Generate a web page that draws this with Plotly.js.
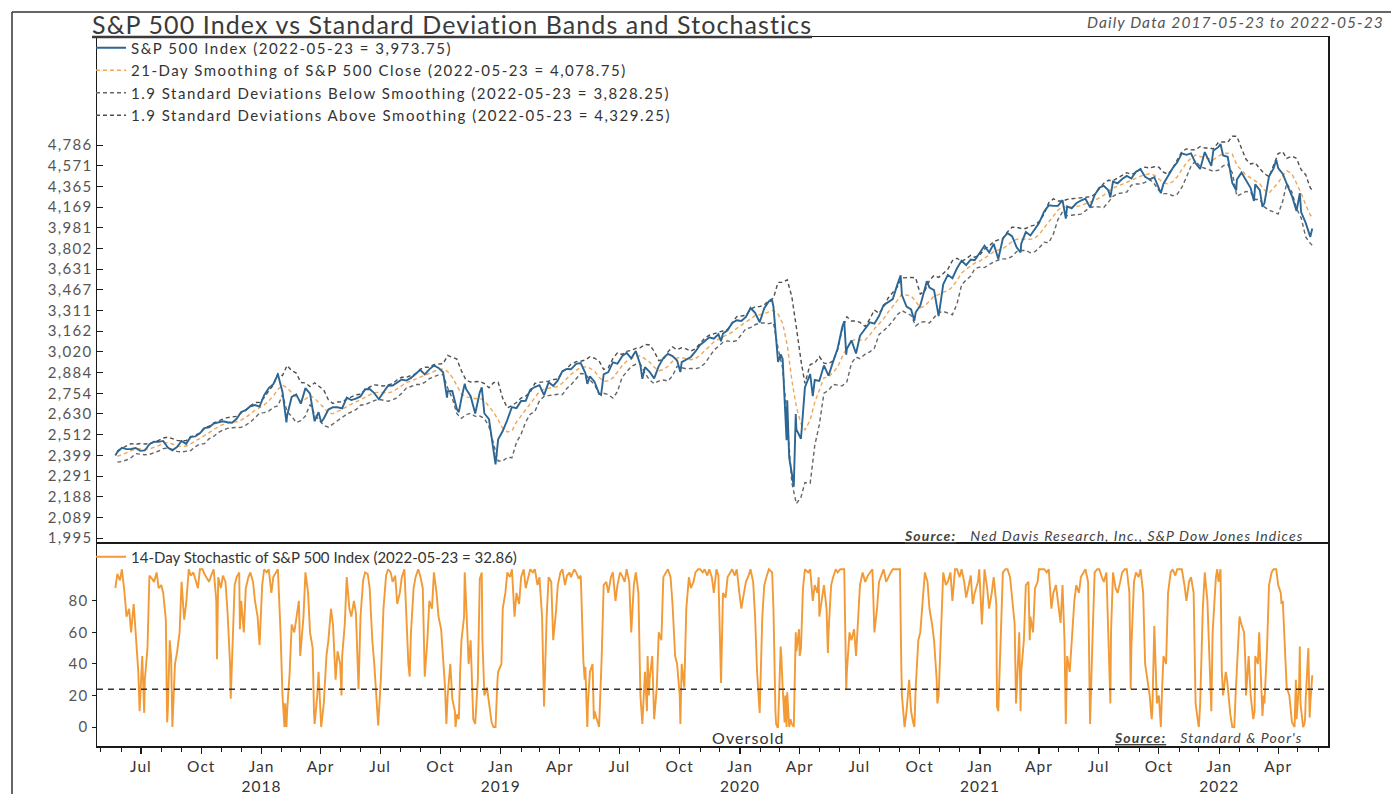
<!DOCTYPE html>
<html><head><meta charset="utf-8">
<script src="https://cdn.plot.ly/plotly-3.0.1.min.js"></script>
<style>
html,body{margin:0;padding:0;background:#fff;}
#chart{width:1391px;height:794px;}
.legendtext{letter-spacing:1.5px;}
.gtitle{letter-spacing:1.1px;}
.annotation-text{letter-spacing:1.1px;}
#chart .xtick text,#chart .x2tick text{letter-spacing:1px;}
#chart .ytick text,#chart .y2tick text,#chart .y3tick text,#chart .y4tick text{letter-spacing:1.3px;}
</style>
</head><body><div id="chart"></div>
<script>
// ---------- DATA ----------
const spxData = [
['2017-05-23',2398],['2017-05-26',2416],['2017-06-02',2439],['2017-06-09',2432],['2017-06-16',2433],['2017-06-23',2438],['2017-06-30',2423],
['2017-07-07',2425],['2017-07-14',2459],['2017-07-21',2473],['2017-07-28',2472],['2017-08-04',2477],['2017-08-11',2441],['2017-08-18',2426],['2017-08-25',2443],
['2017-09-01',2477],['2017-09-08',2461],['2017-09-15',2500],['2017-09-22',2502],['2017-09-29',2519],['2017-10-06',2549],['2017-10-13',2553],['2017-10-20',2575],['2017-10-27',2581],
['2017-11-03',2588],['2017-11-10',2582],['2017-11-17',2579],['2017-11-24',2602],['2017-12-01',2642],['2017-12-08',2652],['2017-12-15',2676],['2017-12-22',2683],['2017-12-29',2674],
['2018-01-05',2743],['2018-01-12',2786],['2018-01-19',2810],['2018-01-26',2873],['2018-02-02',2762],['2018-02-08',2581],['2018-02-09',2620],['2018-02-16',2732],['2018-02-23',2747],
['2018-03-02',2691],['2018-03-09',2786],['2018-03-16',2752],['2018-03-23',2588],['2018-03-29',2641],['2018-04-02',2582],['2018-04-06',2604],['2018-04-13',2656],['2018-04-20',2670],['2018-04-27',2670],
['2018-05-04',2663],['2018-05-11',2728],['2018-05-18',2713],['2018-05-25',2721],['2018-06-01',2735],['2018-06-08',2779],['2018-06-15',2780],['2018-06-22',2755],['2018-06-29',2718],
['2018-07-06',2760],['2018-07-13',2801],['2018-07-20',2802],['2018-07-27',2819],['2018-08-03',2840],['2018-08-10',2833],['2018-08-17',2850],['2018-08-24',2875],['2018-08-31',2902],
['2018-09-07',2872],['2018-09-14',2905],['2018-09-21',2930],['2018-09-28',2914],['2018-10-05',2886],['2018-10-11',2728],['2018-10-12',2767],['2018-10-19',2768],['2018-10-26',2659],['2018-10-29',2641],
['2018-11-02',2723],['2018-11-07',2814],['2018-11-09',2781],['2018-11-16',2736],['2018-11-23',2633],['2018-11-30',2760],['2018-12-03',2790],['2018-12-07',2633],['2018-12-14',2600],['2018-12-21',2417],['2018-12-24',2351],['2018-12-28',2486],
['2019-01-04',2532],['2019-01-11',2596],['2019-01-18',2671],['2019-01-25',2665],['2019-02-01',2707],['2019-02-08',2708],['2019-02-15',2776],['2019-02-22',2793],
['2019-03-01',2804],['2019-03-08',2743],['2019-03-15',2822],['2019-03-22',2800],['2019-03-29',2834],['2019-04-05',2893],['2019-04-12',2907],['2019-04-18',2905],['2019-04-26',2940],
['2019-05-03',2946],['2019-05-10',2881],['2019-05-13',2812],['2019-05-17',2860],['2019-05-24',2826],['2019-05-31',2752],['2019-06-03',2744],['2019-06-07',2873],['2019-06-14',2887],['2019-06-21',2950],['2019-06-28',2942],
['2019-07-05',2990],['2019-07-12',3014],['2019-07-19',2977],['2019-07-26',3026],['2019-08-02',2932],['2019-08-05',2844],['2019-08-09',2919],['2019-08-16',2889],['2019-08-23',2847],['2019-08-30',2926],
['2019-09-06',2979],['2019-09-13',3007],['2019-09-20',2992],['2019-09-27',2962],['2019-10-02',2887],['2019-10-04',2952],['2019-10-11',2970],['2019-10-18',2986],['2019-10-25',3023],
['2019-11-01',3067],['2019-11-08',3093],['2019-11-15',3120],['2019-11-22',3110],['2019-11-29',3141],['2019-12-03',3093],['2019-12-06',3146],['2019-12-13',3169],['2019-12-20',3221],['2019-12-27',3240],
['2020-01-03',3235],['2020-01-10',3265],['2020-01-17',3330],['2020-01-24',3295],['2020-01-31',3226],['2020-02-07',3328],['2020-02-14',3380],['2020-02-19',3386],['2020-02-21',3338],['2020-02-28',2954],
['2020-03-03',3003],['2020-03-06',2972],['2020-03-09',2747],['2020-03-12',2481],['2020-03-13',2711],['2020-03-16',2386],['2020-03-20',2305],['2020-03-23',2237],['2020-03-26',2630],['2020-03-27',2541],
['2020-04-03',2489],['2020-04-09',2790],['2020-04-17',2875],['2020-04-21',2737],['2020-04-24',2837],['2020-05-01',2831],['2020-05-08',2930],['2020-05-15',2864],['2020-05-22',2955],['2020-05-29',3044],
['2020-06-05',3194],['2020-06-08',3232],['2020-06-11',3002],['2020-06-12',3041],['2020-06-19',3098],['2020-06-26',3009],['2020-07-02',3130],['2020-07-10',3185],['2020-07-17',3225],['2020-07-24',3216],['2020-07-31',3271],
['2020-08-07',3351],['2020-08-14',3373],['2020-08-21',3397],['2020-08-28',3508],['2020-09-02',3581],['2020-09-04',3427],['2020-09-11',3341],['2020-09-18',3319],['2020-09-23',3237],['2020-09-25',3298],
['2020-10-02',3348],['2020-10-09',3477],['2020-10-12',3535],['2020-10-16',3484],['2020-10-23',3465],['2020-10-30',3270],['2020-11-06',3510],['2020-11-13',3585],['2020-11-20',3558],['2020-11-27',3638],
['2020-12-04',3699],['2020-12-11',3663],['2020-12-18',3709],['2020-12-24',3703],['2020-12-31',3756],
['2021-01-08',3825],['2021-01-15',3768],['2021-01-22',3841],['2021-01-29',3714],['2021-02-05',3887],['2021-02-12',3934],['2021-02-19',3907],['2021-02-26',3811],
['2021-03-04',3768],['2021-03-05',3842],['2021-03-12',3943],['2021-03-19',3913],['2021-03-26',3975],['2021-04-01',4020],['2021-04-09',4129],['2021-04-16',4185],['2021-04-23',4180],['2021-04-30',4181],
['2021-05-07',4233],['2021-05-12',4063],['2021-05-14',4174],['2021-05-21',4156],['2021-05-28',4204],['2021-06-04',4230],['2021-06-11',4247],['2021-06-18',4166],['2021-06-25',4281],
['2021-07-02',4352],['2021-07-09',4370],['2021-07-16',4327],['2021-07-19',4259],['2021-07-23',4412],['2021-07-30',4395],['2021-08-06',4437],['2021-08-13',4468],['2021-08-20',4442],['2021-08-27',4509],
['2021-09-03',4535],['2021-09-10',4459],['2021-09-17',4433],['2021-09-24',4455],['2021-10-01',4357],['2021-10-04',4300],['2021-10-08',4391],['2021-10-15',4471],['2021-10-22',4545],['2021-10-29',4605],
['2021-11-05',4698],['2021-11-12',4683],['2021-11-19',4698],['2021-11-26',4595],['2021-11-30',4567],['2021-12-03',4538],['2021-12-10',4712],['2021-12-17',4621],['2021-12-20',4568],['2021-12-23',4726],['2021-12-31',4766],
['2022-01-03',4797],['2022-01-07',4677],['2022-01-14',4663],['2022-01-21',4398],['2022-01-27',4327],['2022-01-28',4432],['2022-02-04',4501],['2022-02-11',4419],['2022-02-18',4349],['2022-02-23',4225],['2022-02-25',4385],
['2022-03-04',4329],['2022-03-08',4170],['2022-03-11',4204],['2022-03-18',4463],['2022-03-25',4543],['2022-03-29',4632],['2022-04-01',4546],['2022-04-08',4488],['2022-04-14',4392],['2022-04-22',4272],['2022-04-29',4132],
['2022-05-04',4300],['2022-05-06',4123],['2022-05-13',4024],['2022-05-20',3901],['2022-05-23',3974]
];

const bandDates = [
'2017-05-26','2017-06-02','2017-06-09','2017-06-16','2017-06-23','2017-06-30','2017-07-07','2017-07-14','2017-07-21','2017-07-28','2017-08-04','2017-08-11','2017-08-18','2017-08-25','2017-09-01','2017-09-08','2017-09-15','2017-09-22','2017-09-29','2017-10-06','2017-10-13','2017-10-20','2017-10-27','2017-11-03','2017-11-10','2017-11-17','2017-11-24','2017-12-01','2017-12-08','2017-12-15','2017-12-22','2017-12-29',
'2018-01-05','2018-01-12','2018-01-19','2018-01-26','2018-02-02','2018-02-09','2018-02-16','2018-02-23','2018-03-02','2018-03-09','2018-03-16','2018-03-23','2018-03-29','2018-04-06','2018-04-13','2018-04-20','2018-04-27','2018-05-04','2018-05-11','2018-05-18','2018-05-25','2018-06-01','2018-06-08','2018-06-15','2018-06-22','2018-06-29','2018-07-06','2018-07-13','2018-07-20','2018-07-27','2018-08-03','2018-08-10','2018-08-17','2018-08-24','2018-08-31','2018-09-07','2018-09-14','2018-09-21','2018-09-28','2018-10-05','2018-10-12','2018-10-19','2018-10-26','2018-11-02','2018-11-09','2018-11-16','2018-11-23','2018-11-30','2018-12-07','2018-12-14','2018-12-21','2018-12-28',
'2019-01-04','2019-01-11','2019-01-18','2019-01-25','2019-02-01','2019-02-08','2019-02-15','2019-02-22','2019-03-01','2019-03-08','2019-03-15','2019-03-22','2019-03-29','2019-04-05','2019-04-12','2019-04-18','2019-04-26','2019-05-03','2019-05-10','2019-05-17','2019-05-24','2019-05-31','2019-06-07','2019-06-14','2019-06-21','2019-06-28','2019-07-05','2019-07-12','2019-07-19','2019-07-26','2019-08-02','2019-08-09','2019-08-16','2019-08-23','2019-08-30','2019-09-06','2019-09-13','2019-09-20','2019-09-27','2019-10-04','2019-10-11','2019-10-18','2019-10-25','2019-11-01','2019-11-08','2019-11-15','2019-11-22','2019-11-29','2019-12-06','2019-12-13','2019-12-20','2019-12-27',
'2020-01-03','2020-01-10','2020-01-17','2020-01-24','2020-01-31','2020-02-07','2020-02-14','2020-02-21','2020-02-28','2020-03-06','2020-03-13','2020-03-20','2020-03-27','2020-04-03','2020-04-09','2020-04-17','2020-04-24','2020-05-01','2020-05-08','2020-05-15','2020-05-22','2020-05-29','2020-06-05','2020-06-12','2020-06-19','2020-06-26','2020-07-02','2020-07-10','2020-07-17','2020-07-24','2020-07-31','2020-08-07','2020-08-14','2020-08-21','2020-08-28','2020-09-04','2020-09-11','2020-09-18','2020-09-25','2020-10-02','2020-10-09','2020-10-16','2020-10-23','2020-10-30','2020-11-06','2020-11-13','2020-11-20','2020-11-27','2020-12-04','2020-12-11','2020-12-18','2020-12-24','2020-12-31',
'2021-01-08','2021-01-15','2021-01-22','2021-01-29','2021-02-05','2021-02-12','2021-02-19','2021-02-26','2021-03-05','2021-03-12','2021-03-19','2021-03-26','2021-04-01','2021-04-09','2021-04-16','2021-04-23','2021-04-30','2021-05-07','2021-05-14','2021-05-21','2021-05-28','2021-06-04','2021-06-11','2021-06-18','2021-06-25','2021-07-02','2021-07-09','2021-07-16','2021-07-23','2021-07-30','2021-08-06','2021-08-13','2021-08-20','2021-08-27','2021-09-03','2021-09-10','2021-09-17','2021-09-24','2021-10-01','2021-10-08','2021-10-15','2021-10-22','2021-10-29','2021-11-05','2021-11-12','2021-11-19','2021-11-26','2021-12-03','2021-12-10','2021-12-17','2021-12-23','2021-12-31',
'2022-01-07','2022-01-14','2022-01-21','2022-01-28','2022-02-04','2022-02-11','2022-02-18','2022-02-25','2022-03-04','2022-03-11','2022-03-18','2022-03-25','2022-04-01','2022-04-08','2022-04-14','2022-04-22','2022-04-29','2022-05-06','2022-05-13','2022-05-20','2022-05-23'
];
const smooth21 = [
2393,2402,2412,2424,2433,2434,2431,2433,2441,2451,2464,2468,2460,2450,2447,2449,2461,2478,2490,2507,2524,2540,2557,2569,2578,2582,2585,2595,2610,2631,2653,2667,
2683,2708,2737,2778,2805,2787,2756,2731,2706,2718,2741,2724,2698,2669,2634,2632,2646,2657,2674,2688,2700,2715,2731,2745,2758,2760,2756,2756,2764,2783,2805,2820,2830,2842,2857,2870,2882,2895,2904,2907,2891,2854,2802,2750,2731,2729,2721,2723,2709,2673,2640,2596,
2546,2527,2533,2584,2620,2660,2695,2730,2765,2780,2785,2791,2796,2818,2848,2872,2898,2918,2921,2912,2893,2854,2829,2831,2850,2889,2928,2958,2977,2991,2994,2975,2952,2919,2896,2903,2925,2958,2980,2982,2974,2968,2975,2997,3027,3059,3087,3107,3123,3135,3155,3182,
3205,3228,3254,3274,3280,3287,3301,3313,3284,3219,3067,2836,2671,2573,2537,2595,2699,2779,2850,2857,2885,2920,2990,3045,3090,3110,3100,3100,3135,3180,3215,3250,3300,3340,3385,3435,3430,3420,3380,3330,3345,3380,3420,3430,3450,3460,3490,3540,3600,3630,3660,3680,3695,
3720,3745,3775,3790,3800,3830,3860,3880,3880,3880,3880,3890,3920,3980,4030,4085,4140,4175,4165,4170,4175,4180,4200,4215,4230,4255,4280,4320,4345,4370,4385,4405,4430,4445,4465,4480,4490,4475,4440,4400,4390,4410,4460,4535,4600,4650,4680,4665,4650,4640,4630,4670,
4695,4700,4690,4575,4521,4476,4448,4420,4390,4330,4300,4350,4400,4470,4520,4490,4400,4300,4190,4095,4078.75
];
const lowerBand = [
2363,2366,2374,2386,2408,2405,2402,2404,2412,2422,2435,2438,2430,2420,2417,2419,2424,2446,2459,2462,2489,2502,2523,2538,2547,2551,2554,2553,2566,2583,2608,2635,
2638,2647,2669,2678,2745,2644,2616,2581,2591,2618,2686,2629,2598,2564,2554,2572,2591,2612,2629,2643,2655,2682,2686,2697,2710,2717,2713,2706,2714,2728,2755,2786,2796,2808,2809,2822,2845,2855,2869,2872,2786,2724,2632,2605,2626,2634,2616,2618,2604,2558,2460,2369,
2369,2388,2386,2470,2515,2584,2629,2645,2708,2735,2740,2743,2748,2746,2785,2806,2841,2878,2876,2836,2808,2749,2754,2746,2725,2764,2853,2892,2924,2938,2939,2880,2837,2814,2830,2837,2830,2863,2925,2916,2908,2911,2909,2917,2942,2984,3030,3059,3085,3095,3089,3097,
3139,3180,3188,3208,3220,3221,3216,3223,3043,2913,2588,2257,2154,2185,2258,2254,2452,2569,2755,2772,2809,2805,2800,2825,2945,2985,2975,3005,3020,3045,3139,3165,3195,3235,3280,3310,3295,3275,3200,3225,3230,3220,3260,3295,3305,3290,3280,3360,3505,3545,3575,3632,3647,
3644,3669,3690,3705,3715,3715,3735,3775,3785,3785,3765,3775,3805,3855,3850,3925,4055,4125,4089,4094,4099,4104,4134,4165,4173,4170,4165,4215,4269,4294,4300,4310,4377,4388,4389,4404,4433,4390,4325,4295,4295,4275,4290,4355,4455,4565,4623,4560,4545,4525,4515,4525,
4570,4585,4500,4270,4291,4316,4308,4240,4240,4170,4140,4120,4105,4225,4395,4310,4155,4070,3900,3845,3828.25
];
const upperBand = [
2423,2438,2450,2462,2458,2463,2460,2462,2470,2480,2493,2498,2490,2480,2477,2479,2498,2510,2521,2552,2559,2578,2591,2600,2609,2613,2616,2637,2654,2679,2698,2699,
2728,2769,2805,2878,2865,2930,2896,2881,2821,2818,2796,2819,2798,2774,2714,2692,2701,2702,2719,2733,2745,2748,2776,2793,2806,2803,2799,2806,2814,2838,2855,2854,2864,2876,2905,2918,2919,2935,2939,2942,2996,2984,2972,2895,2836,2824,2826,2828,2814,2788,2820,2823,
2723,2666,2680,2698,2725,2736,2761,2815,2822,2825,2830,2839,2844,2890,2911,2938,2955,2958,2966,2988,2978,2959,2904,2916,2975,3014,3003,3024,3030,3044,3049,3070,3067,3024,2962,2969,3020,3053,3035,3048,3040,3025,3041,3077,3112,3134,3144,3155,3161,3175,3221,3267,
3271,3276,3320,3340,3340,3353,3386,3403,3525,3525,3546,3415,3188,2961,2816,2936,2946,2989,2945,2942,2961,3035,3180,3265,3235,3235,3225,3195,3250,3315,3291,3335,3405,3445,3490,3560,3565,3565,3560,3435,3460,3540,3580,3565,3595,3630,3700,3720,3695,3715,3745,3728,3743,
3796,3821,3860,3875,3885,3945,3985,3985,3975,3975,3995,4005,4035,4105,4210,4245,4225,4225,4241,4246,4251,4256,4266,4265,4287,4340,4395,4425,4421,4446,4470,4500,4483,4502,4541,4556,4547,4560,4555,4505,4485,4545,4630,4715,4745,4735,4737,4770,4755,4755,4745,4815,
4820,4815,4880,4880,4751,4636,4588,4600,4540,4490,4460,4580,4695,4715,4645,4670,4645,4530,4480,4350,4329.25
];

const stochData = [
['2017-05-23',88],['2017-05-26',97],['2017-05-30',93],['2017-06-02',100],['2017-06-06',85],['2017-06-09',70],['2017-06-13',75],['2017-06-16',60],['2017-06-20',78],['2017-06-23',62],['2017-06-27',35],['2017-06-29',10],['2017-06-30',20],
['2017-07-03',45],['2017-07-06',9],['2017-07-07',30],['2017-07-11',50],['2017-07-14',96],['2017-07-18',94],['2017-07-21',92],['2017-07-25',98],['2017-07-28',88],['2017-08-01',90],['2017-08-04',85],['2017-08-08',68],['2017-08-10',3],['2017-08-11',10],
['2017-08-14',55],['2017-08-16',45],['2017-08-18',0],['2017-08-22',40],['2017-08-25',47],['2017-08-29',60],['2017-09-01',92],['2017-09-05',68],['2017-09-08',78],['2017-09-12',100],['2017-09-15',96],['2017-09-19',98],['2017-09-22',93],['2017-09-26',88],['2017-09-29',100],
['2017-10-03',100],['2017-10-06',97],['2017-10-10',94],['2017-10-13',92],['2017-10-17',97],['2017-10-20',100],['2017-10-24',80],['2017-10-25',43],['2017-10-27',95],['2017-10-31',88],['2017-11-03',96],['2017-11-07',92],['2017-11-10',74],['2017-11-14',40],['2017-11-15',18],['2017-11-17',45],
['2017-11-21',90],['2017-11-24',95],['2017-11-28',98],['2017-11-29',62],['2017-12-01',80],['2017-12-05',60],['2017-12-08',88],['2017-12-12',95],['2017-12-15',98],['2017-12-19',92],['2017-12-22',80],['2017-12-26',70],['2017-12-29',52],
['2018-01-02',90],['2018-01-05',100],['2018-01-09',98],['2018-01-12',100],['2018-01-16',85],['2018-01-19',95],['2018-01-23',98],['2018-01-26',100],['2018-01-30',60],['2018-02-02',20],['2018-02-05',0],['2018-02-06',15],['2018-02-08',0],['2018-02-09',10],
['2018-02-13',35],['2018-02-16',65],['2018-02-20',60],['2018-02-23',70],['2018-02-27',80],['2018-03-01',45],['2018-03-02',50],['2018-03-06',70],['2018-03-09',98],['2018-03-13',85],['2018-03-16',60],['2018-03-20',50],['2018-03-22',10],['2018-03-23',2],
['2018-03-27',20],['2018-03-29',35],['2018-04-02',0],['2018-04-06',15],['2018-04-10',45],['2018-04-13',55],['2018-04-17',75],['2018-04-20',65],['2018-04-24',30],['2018-04-27',48],['2018-05-01',40],['2018-05-03',20],['2018-05-04',45],['2018-05-08',65],
['2018-05-11',95],['2018-05-15',75],['2018-05-18',70],['2018-05-22',80],['2018-05-25',72],['2018-05-29',24],['2018-06-01',70],['2018-06-05',93],['2018-06-08',98],['2018-06-12',97],['2018-06-15',88],['2018-06-19',55],['2018-06-22',40],['2018-06-26',10],['2018-06-28',1],
['2018-07-02',30],['2018-07-06',75],['2018-07-10',96],['2018-07-13',100],['2018-07-17',98],['2018-07-20',92],['2018-07-24',96],['2018-07-27',78],['2018-07-31',85],['2018-08-03',95],['2018-08-07',100],['2018-08-10',70],['2018-08-13',40],['2018-08-15',32],['2018-08-17',60],
['2018-08-21',88],['2018-08-24',95],['2018-08-28',100],['2018-08-31',96],['2018-09-04',88],['2018-09-07',32],['2018-09-11',55],['2018-09-14',80],['2018-09-18',75],['2018-09-21',98],['2018-09-25',85],['2018-09-28',70],
['2018-10-02',62],['2018-10-05',45],['2018-10-08',25],['2018-10-10',2],['2018-10-12',20],['2018-10-16',40],['2018-10-19',18],['2018-10-23',10],['2018-10-24',0],['2018-10-26',8],['2018-10-29',5],['2018-10-31',35],
['2018-11-02',55],['2018-11-06',70],['2018-11-07',98],['2018-11-09',80],['2018-11-13',40],['2018-11-16',55],['2018-11-20',5],['2018-11-23',2],['2018-11-27',30],['2018-11-30',94],['2018-12-03',98],['2018-12-04',55],['2018-12-07',20],
['2018-12-11',25],['2018-12-14',15],['2018-12-18',3],['2018-12-21',0],['2018-12-24',0],['2018-12-27',30],['2018-12-28',35],
['2019-01-02',40],['2019-01-04',75],['2019-01-08',85],['2019-01-11',98],['2019-01-15',95],['2019-01-18',100],['2019-01-22',70],['2019-01-25',85],['2019-01-29',78],['2019-02-01',95],['2019-02-05',100],['2019-02-08',88],['2019-02-12',95],['2019-02-15',100],
['2019-02-19',98],['2019-02-22',100],['2019-02-26',90],['2019-03-01',95],['2019-03-05',70],['2019-03-08',13],['2019-03-12',70],['2019-03-15',95],['2019-03-19',92],['2019-03-22',55],['2019-03-26',72],['2019-03-29',90],
['2019-04-02',98],['2019-04-05',100],['2019-04-09',90],['2019-04-12',96],['2019-04-16',98],['2019-04-18',95],['2019-04-23',100],['2019-04-26',98],['2019-04-30',94],['2019-05-03',96],['2019-05-07',42],['2019-05-09',30],['2019-05-10',38],
['2019-05-13',0],['2019-05-14',15],['2019-05-17',35],['2019-05-21',40],['2019-05-23',5],['2019-05-24',10],['2019-05-28',5],['2019-05-31',0],['2019-06-04',45],['2019-06-07',90],['2019-06-11',92],['2019-06-14',85],['2019-06-18',95],['2019-06-21',98],['2019-06-25',80],['2019-06-28',90],
['2019-07-02',98],['2019-07-05',96],['2019-07-09',92],['2019-07-12',100],['2019-07-16',92],['2019-07-19',60],['2019-07-23',90],['2019-07-26',98],['2019-07-30',85],['2019-08-01',40],['2019-08-02',20],['2019-08-05',2],['2019-08-07',15],['2019-08-09',35],
['2019-08-12',10],['2019-08-13',45],['2019-08-15',20],['2019-08-16',30],['2019-08-20',45],['2019-08-23',5],['2019-08-27',25],['2019-08-30',60],['2019-09-03',55],['2019-09-06',95],['2019-09-10',98],['2019-09-13',100],['2019-09-17',95],['2019-09-20',78],['2019-09-24',45],['2019-09-27',40],
['2019-10-01',20],['2019-10-02',2],['2019-10-04',40],['2019-10-08',25],['2019-10-11',75],['2019-10-15',95],['2019-10-18',88],['2019-10-22',92],['2019-10-25',98],['2019-10-29',100],['2019-11-01',100],['2019-11-05',98],['2019-11-08',100],['2019-11-12',96],
['2019-11-15',100],['2019-11-19',95],['2019-11-22',85],['2019-11-26',100],['2019-11-29',96],['2019-12-03',28],['2019-12-06',85],['2019-12-10',82],['2019-12-13',95],['2019-12-17',98],['2019-12-20',100],['2019-12-24',96],['2019-12-27',100],['2019-12-31',85],
['2020-01-03',75],['2020-01-07',85],['2020-01-10',92],['2020-01-14',96],['2020-01-17',100],['2020-01-21',92],['2020-01-24',70],['2020-01-27',35],['2020-01-31',9],['2020-02-04',70],['2020-02-07',90],['2020-02-11',96],['2020-02-14',100],['2020-02-19',98],['2020-02-21',75],
['2020-02-24',10],['2020-02-25',2],['2020-02-27',0],['2020-02-28',0],['2020-03-03',51],['2020-03-04',45],['2020-03-06',25],['2020-03-09',3],['2020-03-10',20],['2020-03-12',0],['2020-03-13',22],['2020-03-16',0],['2020-03-18',5],['2020-03-20',2],['2020-03-23',0],
['2020-03-24',30],['2020-03-26',60],['2020-03-27',48],['2020-03-31',62],['2020-04-01',45],['2020-04-03',50],['2020-04-06',88],['2020-04-09',100],['2020-04-14',98],['2020-04-17',100],['2020-04-21',80],['2020-04-24',90],['2020-04-28',85],['2020-04-30',95],['2020-05-01',70],
['2020-05-05',80],['2020-05-08',90],['2020-05-12',75],['2020-05-14',47],['2020-05-15',60],['2020-05-19',90],['2020-05-22',95],['2020-05-26',100],['2020-05-29',98],['2020-06-02',100],['2020-06-05',100],['2020-06-08',100],['2020-06-11',24],['2020-06-12',35],
['2020-06-16',60],['2020-06-19',55],['2020-06-23',62],['2020-06-26',45],['2020-06-30',75],['2020-07-02',90],['2020-07-06',98],['2020-07-10',92],['2020-07-14',96],['2020-07-17',98],['2020-07-21',100],['2020-07-24',60],['2020-07-28',75],['2020-07-31',92],
['2020-08-04',96],['2020-08-07',100],['2020-08-11',92],['2020-08-14',95],['2020-08-18',98],['2020-08-21',100],['2020-08-25',100],['2020-08-28',100],['2020-09-01',100],['2020-09-03',40],['2020-09-04',20],['2020-09-08',0],['2020-09-11',10],['2020-09-15',30],
['2020-09-18',10],['2020-09-21',3],['2020-09-23',0],['2020-09-25',25],['2020-09-29',55],['2020-10-02',60],['2020-10-06',85],['2020-10-09',98],['2020-10-13',92],['2020-10-16',75],['2020-10-20',65],['2020-10-23',55],['2020-10-27',30],['2020-10-28',15],['2020-10-30',20],
['2020-11-03',70],['2020-11-06',98],['2020-11-10',90],['2020-11-13',92],['2020-11-17',98],['2020-11-20',80],['2020-11-24',100],['2020-11-27',100],['2020-12-01',95],['2020-12-04',100],['2020-12-08',92],['2020-12-11',82],['2020-12-15',90],['2020-12-18',96],
['2020-12-21',78],['2020-12-24',85],['2020-12-29',92],['2020-12-31',100],
['2021-01-04',65],['2021-01-08',100],['2021-01-12',88],['2021-01-15',75],['2021-01-19',85],['2021-01-22',95],['2021-01-26',78],['2021-01-27',13],['2021-01-29',10],['2021-02-02',70],['2021-02-05',98],['2021-02-09',100],['2021-02-12',100],['2021-02-16',95],
['2021-02-19',80],['2021-02-23',65],['2021-02-25',15],['2021-02-26',22],['2021-03-02',60],['2021-03-04',10],['2021-03-05',35],['2021-03-09',55],['2021-03-12',90],['2021-03-16',92],['2021-03-18',55],['2021-03-19',70],['2021-03-23',60],['2021-03-26',88],['2021-03-30',92],
['2021-04-01',100],['2021-04-05',100],['2021-04-09',100],['2021-04-13',98],['2021-04-16',100],['2021-04-20',75],['2021-04-23',85],['2021-04-27',90],['2021-04-30',80],['2021-05-04',66],['2021-05-07',90],['2021-05-10',55],['2021-05-12',2],['2021-05-14',45],
['2021-05-18',35],['2021-05-21',55],['2021-05-25',80],['2021-05-28',90],['2021-06-01',85],['2021-06-04',95],['2021-06-08',98],['2021-06-11',100],['2021-06-15',92],['2021-06-18',2],['2021-06-22',60],['2021-06-25',98],['2021-06-29',100],
['2021-07-02',100],['2021-07-06',95],['2021-07-09',92],['2021-07-13',98],['2021-07-16',55],['2021-07-19',15],['2021-07-20',60],['2021-07-23',98],['2021-07-27',88],['2021-07-30',85],['2021-08-03',92],['2021-08-06',98],['2021-08-10',100],['2021-08-13',100],
['2021-08-17',85],['2021-08-19',24],['2021-08-20',50],['2021-08-24',92],['2021-08-27',98],['2021-08-31',95],['2021-09-03',100],['2021-09-07',85],['2021-09-10',40],['2021-09-14',30],['2021-09-17',20],['2021-09-20',5],['2021-09-21',10],['2021-09-24',64],
['2021-09-28',15],['2021-10-01',20],['2021-10-04',0],['2021-10-06',25],['2021-10-08',45],['2021-10-12',40],['2021-10-15',85],['2021-10-19',98],['2021-10-22',100],['2021-10-26',96],['2021-10-29',100],['2021-11-02',100],['2021-11-05',100],['2021-11-09',90],
['2021-11-12',80],['2021-11-16',92],['2021-11-19',95],['2021-11-23',85],['2021-11-26',15],['2021-11-30',2],['2021-12-01',0],['2021-12-03',15],['2021-12-07',75],['2021-12-10',98],['2021-12-14',80],['2021-12-17',45],['2021-12-20',10],['2021-12-22',60],
['2021-12-27',95],['2021-12-29',100],['2021-12-31',92],
['2022-01-03',100],['2022-01-05',35],['2022-01-07',20],['2022-01-11',35],['2022-01-13',30],['2022-01-14',25],['2022-01-18',8],['2022-01-21',0],['2022-01-24',0],['2022-01-26',20],['2022-01-28',35],['2022-02-01',70],['2022-02-04',65],['2022-02-08',60],
['2022-02-10',40],['2022-02-11',20],['2022-02-15',45],['2022-02-18',20],['2022-02-22',5],['2022-02-24',10],['2022-02-25',45],['2022-03-01',40],['2022-03-03',60],['2022-03-04',50],['2022-03-08',7],['2022-03-10',20],['2022-03-11',15],['2022-03-15',50],
['2022-03-18',90],['2022-03-22',98],['2022-03-25',100],['2022-03-29',100],['2022-04-01',90],['2022-04-05',85],['2022-04-06',78],['2022-04-08',80],['2022-04-12',40],['2022-04-14',25],['2022-04-18',20],['2022-04-22',3],['2022-04-26',0],['2022-04-28',30],
['2022-04-29',5],['2022-05-03',28],['2022-05-04',51],['2022-05-05',15],['2022-05-09',0],['2022-05-11',2],['2022-05-12',5],['2022-05-13',18],['2022-05-17',50],['2022-05-18',12],['2022-05-19',6],['2022-05-20',15],['2022-05-23',32.86]
];

const oversoldLevel = 24;
const priceTickVals = [1995.26,2089.30,2187.76,2290.87,2398.83,2511.89,2630.27,2754.23,2884.03,3019.95,3162.28,3311.31,3467.37,3630.78,3801.89,3981.07,4168.69,4365.16,4570.88,4786.30];
const priceTickText = ['1,995','2,089','2,188','2,291','2,399','2,512','2,630','2,754','2,884','3,020','3,162','3,311','3,467','3,631','3,802','3,981','4,169','4,365','4,571','4,786'];
const stochTickVals = [0,20,40,60,80];
const monthTickVals = ['2017-07-01','2017-10-01','2018-01-01','2018-04-01','2018-07-01','2018-10-01','2019-01-01','2019-04-01','2019-07-01','2019-10-01','2020-01-01','2020-04-01','2020-07-01','2020-10-01','2021-01-01','2021-04-01','2021-07-01','2021-10-01','2022-01-01','2022-04-01'];
const monthTickText = ['Jul','Oct','Jan<br>2018','Apr','Jul','Oct','Jan<br>2019','Apr','Jul','Oct','Jan<br>2020','Apr','Jul','Oct','Jan<br>2021','Apr','Jul','Oct','Jan<br>2022','Apr'];

// ---------- CHART ----------
const FONT = 'Lato, "Open Sans", sans-serif';
const xRange = ['2017-04-25', '2022-06-16'];
const priceRange = [3.2962, 3.7844];
const stochRange = [-12, 116];
const AX = '#1a1a1a';

const traces = [
  {name: '21-Day Smoothing of S&amp;P 500 Close (2022-05-23 = 4,078.75)', x: bandDates, y: smooth21, xaxis: 'x', yaxis: 'y',
   mode: 'lines', line: {color: '#f0a657', width: 1.4, dash: '4px,3px'}, legendrank: 2, hoverinfo: 'skip'},
  {name: '1.9 Standard Deviations Below Smoothing (2022-05-23 = 3,828.25)', x: bandDates, y: lowerBand, xaxis: 'x', yaxis: 'y',
   mode: 'lines', line: {color: '#666666', width: 1.4, dash: '4px,3px'}, legendrank: 3, hoverinfo: 'skip'},
  {name: '1.9 Standard Deviations Above Smoothing (2022-05-23 = 4,329.25)', x: bandDates, y: upperBand, xaxis: 'x', yaxis: 'y',
   mode: 'lines', line: {color: '#4f4f4f', width: 1.4, dash: '4px,3px'}, legendrank: 4, hoverinfo: 'skip'},
  {name: 'S&amp;P 500 Index (2022-05-23 = 3,973.75)', x: spxData.map(d => d[0]), y: spxData.map(d => d[1]), xaxis: 'x', yaxis: 'y',
   mode: 'lines', line: {color: '#2c6694', width: 1.9}, legendrank: 1, hoverinfo: 'skip'},
  {name: '14-Day Stochastic of S&amp;P 500 Index (2022-05-23 = 32.86)', x: stochData.map(d => d[0]), y: stochData.map(d => d[1]),
   xaxis: 'x2', yaxis: 'y3', mode: 'lines', line: {color: '#f29a35', width: 1.9}, legend: 'legend2', hoverinfo: 'skip'}
];

const px2x = p => (p - 97) / 1231;
const py2y = p => (746 - p) / 709;

const layout = {
  width: 1391, height: 794,
  margin: {l: 97, r: 63, t: 37, b: 48, pad: 0},
  paper_bgcolor: '#ffffff', plot_bgcolor: '#ffffff',
  font: {family: FONT, size: 13, color: '#444'},
  showlegend: true,
  title: {text: '<u>S&amp;P 500 Index vs Standard Deviation Bands and Stochastics</u>',
          xref: 'container', x: 92 / 1391, xanchor: 'left',
          yref: 'container', y: 1 - 25 / 794, yanchor: 'middle',
          font: {family: FONT, size: 25, color: '#3a3a3a'}},
  xaxis: {domain: [0, 1], anchor: 'y', type: 'date', range: xRange, matches: 'x2',
          showticklabels: false, ticks: '', showgrid: false, zeroline: false,
          showline: true, mirror: true, linecolor: AX, linewidth: 1.5},
  yaxis: {domain: [0.2877, 1], anchor: 'x', type: 'log', range: priceRange,
          tickmode: 'array', tickvals: priceTickVals, ticktext: priceTickText,
          ticks: 'inside', ticklen: 6, tickcolor: AX, tickwidth: 1,
          showline: true, mirror: true, linecolor: AX, linewidth: 1.5,
          showgrid: false, zeroline: false, tickfont: {family: FONT, size: 15, color: '#555'}},
  yaxis2: {overlaying: 'y', anchor: 'x', side: 'right', type: 'log', range: priceRange,
           tickmode: 'array', tickvals: priceTickVals, ticktext: priceTickText,
           ticks: 'inside', ticklen: 6, tickcolor: AX, tickwidth: 1, showline: false,
           showgrid: false, zeroline: false, tickfont: {family: FONT, size: 15, color: '#555'}},
  xaxis2: {domain: [0, 1], anchor: 'y3', type: 'date', range: xRange,
           tickmode: 'array', tickvals: monthTickVals, ticktext: monthTickText,
           ticks: 'outside', ticklen: 6, tickcolor: AX, tickwidth: 1.2,
           minor: {tickmode: 'linear', tick0: '2017-01-01', dtick: 'M1', ticks: 'outside', ticklen: 4, tickcolor: AX, tickwidth: 1, showgrid: false},
           showline: true, mirror: true, linecolor: AX, linewidth: 1.5,
           showgrid: false, zeroline: false, tickfont: {family: FONT, size: 15.5, color: '#333'}},
  yaxis3: {domain: [0, 0.2849], anchor: 'x2', range: stochRange,
           tickmode: 'array', tickvals: stochTickVals,
           ticks: 'outside', ticklen: 4, tickcolor: AX,
           showline: true, mirror: true, linecolor: AX, linewidth: 1.5,
           showgrid: false, zeroline: false, tickfont: {family: FONT, size: 15, color: '#555'}},
  yaxis4: {overlaying: 'y3', anchor: 'x2', side: 'right', range: stochRange,
           tickmode: 'array', tickvals: stochTickVals,
           ticks: 'inside', ticklen: 6, tickcolor: AX, ticklabelstandoff: 12, showline: false,
           showgrid: false, zeroline: false, tickfont: {family: FONT, size: 15, color: '#555'}},
  legend: {x: px2x(91), xanchor: 'left', y: py2y(31.5), yanchor: 'top', bgcolor: 'rgba(0,0,0,0)', borderwidth: 0,
           font: {family: FONT, size: 15, color: '#333'}, tracegroupgap: 0, traceorder: 'normal', itemwidth: 30},
  legend2: {x: px2x(91), xanchor: 'left', y: py2y(540.5), yanchor: 'top', bgcolor: 'rgba(0,0,0,0)', borderwidth: 0,
            font: {family: FONT, size: 15, color: '#333'}, itemwidth: 30},
  shapes: [
    {type: 'line', xref: 'paper', yref: 'y3', x0: 0, x1: 1, y0: oversoldLevel, y1: oversoldLevel,
     line: {color: '#333', width: 1.6, dash: '6px,5px'}},
    {type: 'line', xref: 'paper', yref: 'paper', x0: px2x(12), x1: px2x(1400), y0: py2y(12), y1: py2y(12),
     line: {color: '#333', width: 1.5}},
    {type: 'line', xref: 'paper', yref: 'paper', x0: px2x(12), x1: px2x(12), y0: py2y(12), y1: py2y(800),
     line: {color: '#333', width: 1.5}}
  ],
  annotations: [
    {xref: 'paper', yref: 'paper', x: px2x(1386), y: py2y(22), xanchor: 'right', yanchor: 'middle', showarrow: false,
     text: '<i>Daily Data 2017-05-23 to 2022-05-23</i>', font: {family: FONT, size: 15.5, color: '#555'}},
    {xref: 'paper', yref: 'paper', x: px2x(1305), y: py2y(535), xanchor: 'right', yanchor: 'middle', showarrow: false,
     text: '<b><i><u>Source:</u></i></b>   <i>Ned Davis Research, Inc., S&amp;P Dow Jones Indices</i>', font: {family: FONT, size: 14, color: '#444'}},
    {xref: 'paper', yref: 'paper', x: px2x(1305), y: py2y(737), xanchor: 'right', yanchor: 'middle', showarrow: false,
     text: '<b><i><u>Source:</u></i></b>   <i>Standard &amp; Poor\'s</i>', font: {family: FONT, size: 14, color: '#444'}},
    {xref: 'paper', yref: 'paper', x: px2x(748), y: py2y(737), xanchor: 'center', yanchor: 'middle', showarrow: false,
     text: 'Oversold', font: {family: FONT, size: 16, color: '#333'}}
  ]
};

Plotly.newPlot('chart', traces, layout, {displayModeBar: false, staticPlot: true});
</script>
</body></html>
